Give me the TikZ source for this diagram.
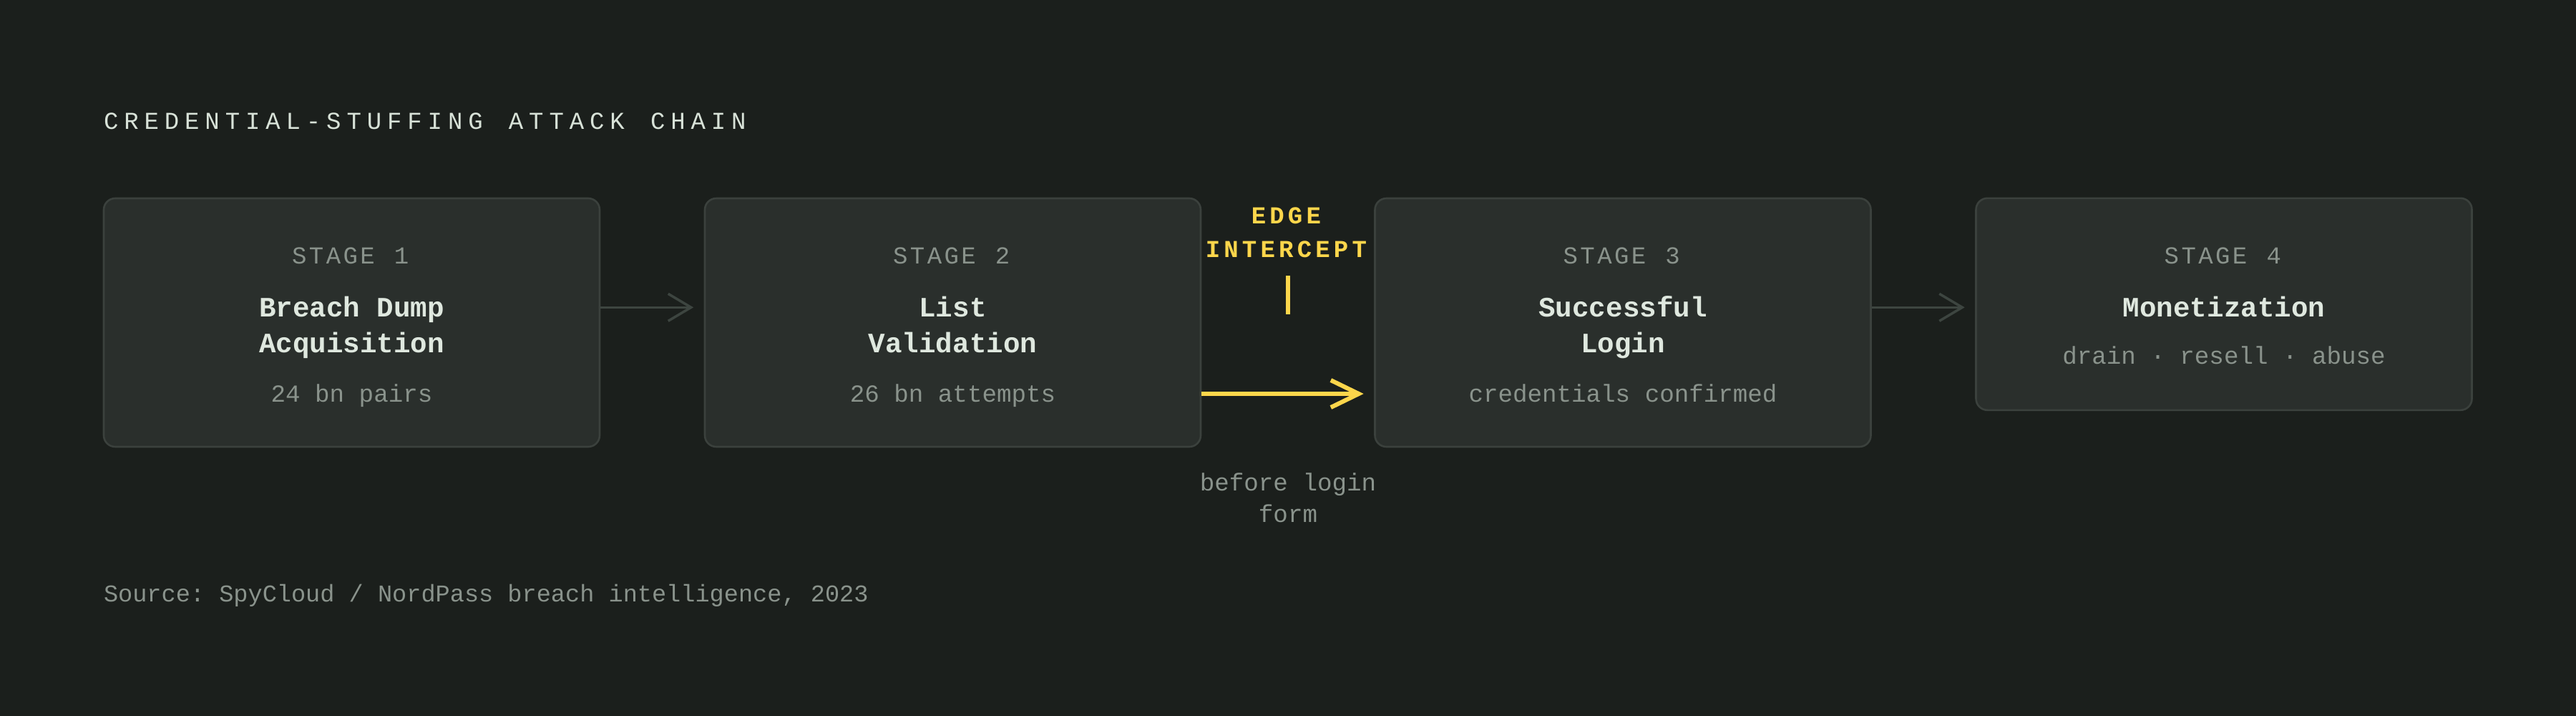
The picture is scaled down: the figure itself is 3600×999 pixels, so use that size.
\documentclass[tikz,border=0pt]{standalone}
\usepackage{fontspec}
\usetikzlibrary{arrows.meta}
\newfontfamily\monoR{Liberation Mono}
\definecolor{bgc}{HTML}{1B1F1C}
\definecolor{boxfill}{HTML}{2A2F2C}
\definecolor{boxline}{HTML}{3B413D}
\definecolor{titlec}{HTML}{D8E2D8}
\definecolor{greyc}{HTML}{8A938C}
\definecolor{boldc}{HTML}{DFE8DF}
\definecolor{yel}{HTML}{FDD64B}
\definecolor{arrowc}{HTML}{3D4540}
\newlength\sppitch
\def\spw#1{\ifx#1\relax\else\makebox[\sppitch][l]{#1}\expandafter\spw\fi}
\def\spend{\hspace{-\dimexpr\sppitch-0.6em\relax}}
\frenchspacing
\tikzset{
  stagebox/.style={draw=boxline, fill=boxfill, line width=2.6pt, rounded corners=16pt,
    minimum width=693pt, inner sep=0pt},
  txt/.style={anchor=base, inner sep=0pt, outer sep=0pt},
  stagelbl/.style={txt, text=greyc, font=\monoR\fontsize{34}{40}\selectfont},
  namelbl/.style={txt, text=boldc, font=\monoR\bfseries\fontsize{39.2}{50}\selectfont},
  sublbl/.style={txt, text=greyc, font=\monoR\fontsize{34.2}{40}\selectfont},
  srclbl/.style={txt, text=greyc, font=\monoR\fontsize{33.6}{40}\selectfont},
  edgelbl/.style={txt, text=yel, font=\monoR\bfseries\fontsize{34}{40}\selectfont},
  flowarrow/.style={draw=arrowc, line width=3.5pt, shorten >=14.5pt,
    -{Straight Barb[length=32pt, width=38pt]}},
  edgearrow/.style={draw=yel, line width=6pt, shorten >=14.5pt,
    -{Straight Barb[length=39pt, width=38pt]}},
  tickline/.style={draw=yel, line width=6pt}
}
\begin{document}
\begin{tikzpicture}[x=1pt, y=-1pt]
\useasboundingbox (0,0) rectangle (3600,999);
\fill[bgc] (-10,-10) rectangle (3610,1010);

% title
\node[txt, anchor=base west, text=titlec, font=\monoR\fontsize{34}{40}\selectfont] (title) at (145,180)
  {\setlength\sppitch{28.3pt}\spw CREDENTIAL-STUFFING\relax\hspace{\sppitch}\spw ATTACK\relax\hspace{\sppitch}\spw CHAIN\relax\spend};

% boxes
\node[stagebox, minimum height=347pt] (s1) at (491.5,450.5) {};
\node[stagebox, minimum height=347pt] (s2) at (1331.5,450.5) {};
\node[stagebox, minimum height=347pt] (s3) at (2268,450.5) {};
\node[stagebox, minimum height=296pt] (s4) at (3108,424.8) {};

% box 1
\node[stagelbl] (s1a) at (491.5,368) {\setlength\sppitch{23.8pt}\spw STAGE\relax\hspace{\sppitch}\spw 1\relax\spend};
\node[namelbl] (s1b) at (491.5,442) {Breach Dump};
\node[namelbl] (s1c) at (491.5,492) {Acquisition};
\node[sublbl] (s1d) at (491.5,561.5) {24 bn pairs};

% box 2
\node[stagelbl] (s2a) at (1331.5,368) {\setlength\sppitch{23.8pt}\spw STAGE\relax\hspace{\sppitch}\spw 2\relax\spend};
\node[namelbl] (s2b) at (1331.5,442) {List};
\node[namelbl] (s2c) at (1331.5,492) {Validation};
\node[sublbl] (s2d) at (1331.5,561.5) {26 bn attempts};

% box 3
\node[stagelbl] (s3a) at (2268,368) {\setlength\sppitch{23.8pt}\spw STAGE\relax\hspace{\sppitch}\spw 3\relax\spend};
\node[namelbl] (s3b) at (2268,442) {Successful};
\node[namelbl] (s3c) at (2268,492) {Login};
\node[sublbl] (s3d) at (2268,561.5) {credentials confirmed};

% box 4
\node[stagelbl] (s4a) at (3108,368) {\setlength\sppitch{23.8pt}\spw STAGE\relax\hspace{\sppitch}\spw 4\relax\spend};
\node[namelbl] (s4b) at (3108,442) {Monetization};
\node[sublbl] (s4c) at (3108,508) {drain · resell · abuse};

% flow arrows
\coordinate (ay) at (0,429.3);
\draw[flowarrow] (s1.east |- ay) -- (s2.west |- ay);
\draw[flowarrow] (s3.east |- ay) -- (s4.west |- ay);

% edge intercept
\node[edgelbl] (e1) at (1800,312) {\setlength\sppitch{25.6pt}\spw EDGE\relax\spend};
\node[edgelbl] (e2) at (1800,359) {\setlength\sppitch{25.6pt}\spw INTERCEPT\relax\spend};
\coordinate (t1) at (1800,385);
\coordinate (t2) at (1800,439);
\draw[tickline] (t1) -- (t2);
\coordinate (yy) at (0,550);
\draw[edgearrow] (s2.east |- yy) -- (s3.west |- yy);
\node[sublbl] (b1) at (1800,685) {before login};
\node[sublbl] (b2) at (1800,729.5) {form};

% source
\node[srclbl, anchor=base west] (src) at (145,840.5) {Source: SpyCloud / NordPass breach intelligence, 2023};
\end{tikzpicture}
\end{document}
